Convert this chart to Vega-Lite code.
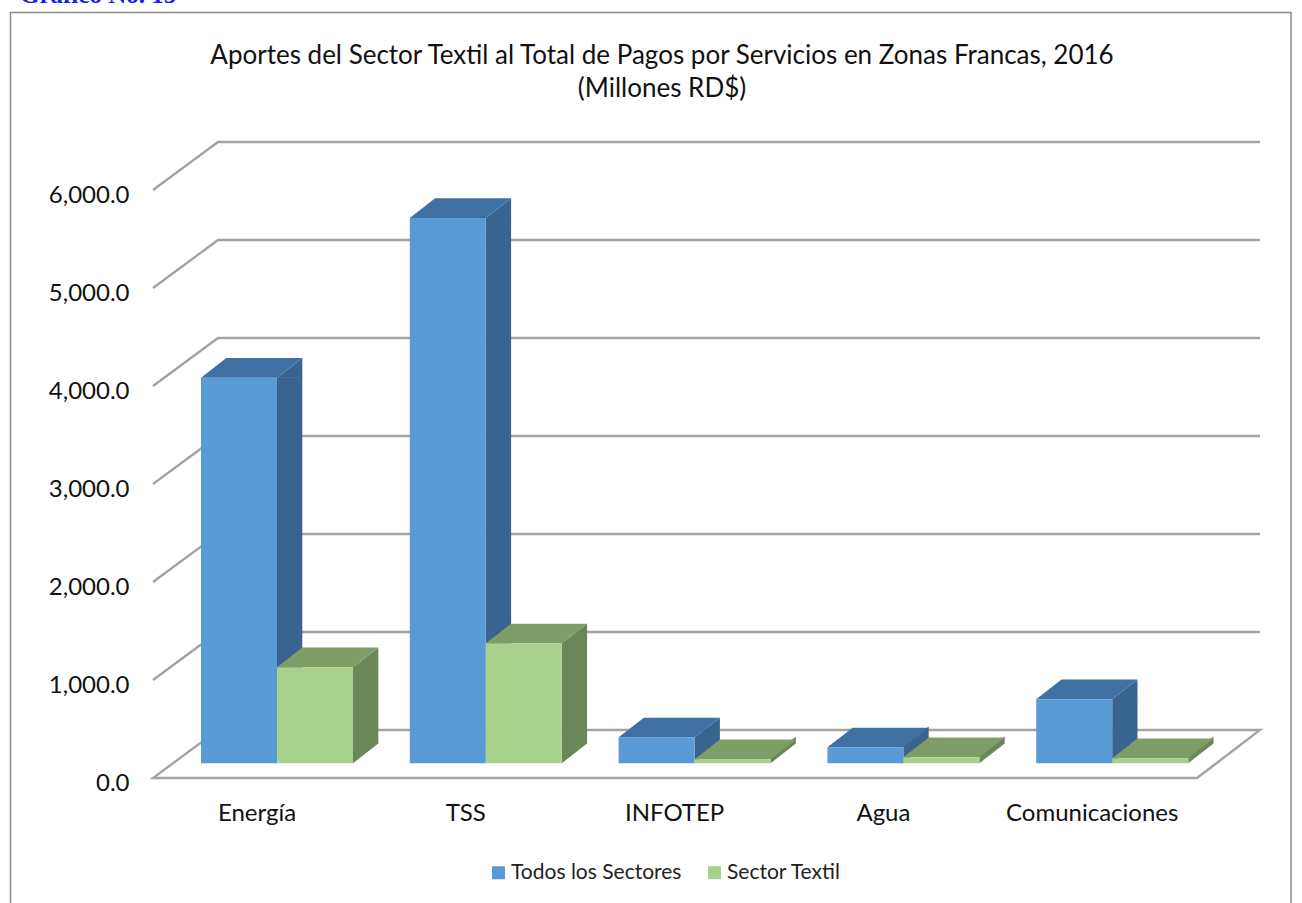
{
"$schema":"https://vega.github.io/schema/vega-lite/v6.json",
"width":1042,"height":588,
"autosize":{"type":"none"},
"padding":{"left":218,"top":142,"right":42,"bottom":173},
"background":"#ffffff",
"config":{"view":{"stroke":null},"font":"Lato"},
"title":{"text":["Aportes del Sector Textil al Total de Pagos por Servicios en Zonas Francas, 2016","(Millones RD$)"],"anchor":"middle","frame":"group","dx":-77,"offset":-119,"fontSize":26,"font":"Lato","fontWeight":"normal","lineHeight":33,"color":"#111111"},
"datasets":{
"bars":[
{"category":"Energía","series":"Todos los Sectores","value":3934},
{"category":"Energía","series":"Sector Textil","value":980},
{"category":"TSS","series":"Todos los Sectores","value":5565},
{"category":"TSS","series":"Sector Textil","value":1224},
{"category":"INFOTEP","series":"Todos los Sectores","value":265},
{"category":"INFOTEP","series":"Sector Textil","value":41},
{"category":"Agua","series":"Todos los Sectores","value":163},
{"category":"Agua","series":"Sector Textil","value":61},
{"category":"Comunicaciones","series":"Todos los Sectores","value":653},
{"category":"Comunicaciones","series":"Sector Textil","value":51}
],
"ticks":[{"tick":1000},{"tick":2000},{"tick":3000},{"tick":4000},{"tick":5000},{"tick":6000}],
"one":[{"tick":0}]
},
"encoding":{},
"layer":[
{"data":{"name":"one"},"mark":{"type":"point","shape":"M-728.5,480L-728.5,-423.5L552,-423.5L552,480","size":4,"filled":false,"stroke":"#8c8c8c","strokeWidth":1.5,"opacity":1}},
{"data":{"name":"one"},"mark":{"type":"text","text":"Gráfico No. 15","font":"Liberation Serif","fontWeight":"bold","fontSize":25,"fill":"#1a1aee","align":"left","baseline":"alphabetic","dx":-719,"dy":-433}},
{"data":{"name":"ticks"},"mark":{"type":"point","shape":"M521,0L-521,0L-586,48","size":4,"filled":false,"stroke":"#a3a3a3","strokeWidth":2.4,"opacity":1},
 "encoding":{"y":{"field":"tick","type":"quantitative","scale":{"domain":[0,6000]},"axis":{"values":[0,1000,2000,3000,4000,5000,6000],"format":",.1f","title":null,"grid":false,"domain":false,"ticks":false,"offset":80,"labelPadding":9,"labelOffset":53,"labelFontSize":24,"labelColor":"#111111","labelFont":"Lato"}}}},
{"data":{"name":"one"},"mark":{"type":"point","shape":"M-521,0L-586,48L458,48L521,0Z","size":4,"filled":false,"stroke":"#a3a3a3","strokeWidth":2.4,"opacity":1},
 "encoding":{"y":{"field":"tick","type":"quantitative"}}},
{"data":{"name":"bars"},
 "encoding":{
  "x":{"field":"category","type":"nominal","sort":["Energía","TSS","INFOTEP","Agua","Comunicaciones"],"scale":{"range":[-45.4,998.6],"paddingInner":0.272,"paddingOuter":0.136},"axis":{"title":null,"domain":false,"ticks":false,"labelAngle":0,"labelPadding":71,"labelOffset":-20,"labelFontSize":24,"labelColor":"#111111","labelFont":"Lato"}},
  "xOffset":{"field":"series","type":"nominal","sort":["Todos los Sectores","Sector Textil"]},
  "y":{"field":"value","type":"quantitative"}
 },
 "layer":[
  {"transform":[{"filter":"datum.series=='Todos los Sectores' && datum.value>=200"}],"mark":{"type":"rule","strokeWidth":25.3,"xOffset":12.65,"yOffset":32.8,"y2Offset":14.1},"encoding":{"xOffset":null,"y2":{"datum":0},"color":{"value":"#39648f"}}},
  {"transform":[{"filter":"datum.series=='Todos los Sectores'"}],"layer":[
   {"transform":[{"filter":"datum.value>=200"}],"mark":{"type":"point","shape":"M38,0L63.3,-19.7L63.3,0Z","size":4,"filled":true,"color":"#39648f","opacity":1,"strokeWidth":0,"yOffset":33.3}},
   {"transform":[{"filter":"datum.value>=200"}],"mark":{"type":"point","shape":"M38,-19.7L63.3,-19.7L38,0Z","size":4,"filled":true,"color":"#39648f","opacity":1,"strokeWidth":0,"yOffset":33.3},"encoding":{"y":{"datum":0}}},
   {"transform":[{"filter":"datum.value<200"}],"mark":{"type":"point","shape":"M38,-17L63.3,-36.7L63.3,-19.7L38,0Z","size":4,"filled":true,"color":"#39648f","opacity":1,"strokeWidth":0,"yOffset":33.3},"encoding":{"y":{"datum":0}}}
  ]},
  {"transform":[{"filter":"datum.series=='Sector Textil' && datum.value>=200"}],"mark":{"type":"rule","strokeWidth":25.3,"xOffset":88.65,"yOffset":32.8,"y2Offset":14.1},"encoding":{"xOffset":null,"y2":{"datum":0},"color":{"value":"#6b8658"}}},
  {"transform":[{"filter":"datum.series=='Sector Textil'"}],"layer":[
   {"transform":[{"filter":"datum.value>=200"}],"mark":{"type":"point","shape":"M38,0L63.3,-19.7L63.3,0Z","size":4,"filled":true,"color":"#6b8658","opacity":1,"strokeWidth":0,"yOffset":33.3}},
   {"transform":[{"filter":"datum.value>=200"}],"mark":{"type":"point","shape":"M38,-19.7L63.3,-19.7L38,0Z","size":4,"filled":true,"color":"#6b8658","opacity":1,"strokeWidth":0,"yOffset":33.3},"encoding":{"y":{"datum":0}}},
   {"transform":[{"filter":"datum.value<200"}],"mark":{"type":"point","shape":"M38,-7L63.3,-26.7L63.3,-19.7L38,0Z","size":4,"filled":true,"color":"#6b8658","opacity":1,"strokeWidth":0,"yOffset":33.3},"encoding":{"y":{"datum":0}}}
  ]},
  {"transform":[{"filter":"datum.series=='Todos los Sectores'"}],"mark":{"type":"point","shape":"M-38,0L38,0L63.3,-19.7L-12.7,-19.7Z","size":4,"filled":true,"color":"#3e70a3","opacity":1,"strokeWidth":0,"yOffset":33.3}},
  {"transform":[{"filter":"datum.series=='Sector Textil'"}],"mark":{"type":"point","shape":"M-38,0L38,0L63.3,-19.7L-12.7,-19.7Z","size":4,"filled":true,"color":"#7e9e68","opacity":1,"strokeWidth":0,"yOffset":33.3}},
  {"mark":{"type":"bar","yOffset":33.3,"y2Offset":33.3},
   "encoding":{"color":{"field":"series","type":"nominal","sort":["Todos los Sectores","Sector Textil"],"scale":{"domain":["Todos los Sectores","Sector Textil"],"range":["#5b9bd5","#a9d18e"]},"legend":{"title":null,"orient":"none","direction":"horizontal","legendX":270,"legendY":720,"symbolType":"square","symbolSize":169,"symbolStrokeWidth":0,"labelFontSize":21,"labelColor":"#222222","labelFont":"Lato","labelLimit":400,"columnPadding":22,"labelOffset":2}}}}
 ]}
]
}
